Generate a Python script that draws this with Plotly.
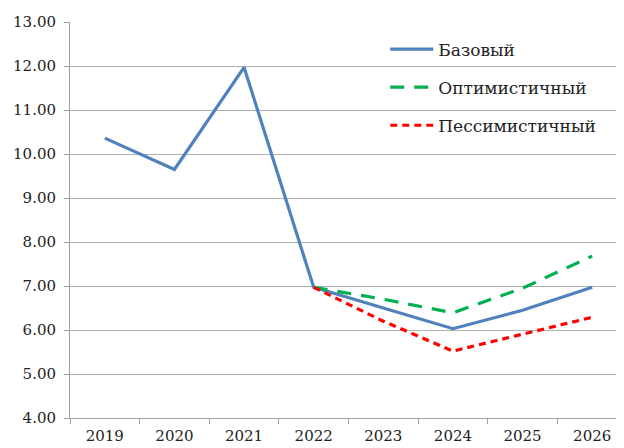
import plotly.graph_objects as go

years = ["2019", "2020", "2021", "2022", "2023", "2024", "2025", "2026"]
base = [10.36, 9.65, 11.97, 6.97, 6.50, 6.03, 6.45, 6.97]
opt_years = ["2022", "2023", "2024", "2025", "2026"]
optimistic = [6.97, 6.70, 6.39, 6.95, 7.68]
pessimistic = [6.97, 6.20, 5.52, 5.90, 6.29]

fig = go.Figure()

fig.add_trace(go.Scatter(x=years, y=base, name="Базовый", mode="lines",
                         line=dict(color="#4F81BD", width=3.2),
                         legendgroup="a"))
fig.add_trace(go.Scatter(x=opt_years, y=optimistic, name="Оптимистичный", mode="lines",
                         line=dict(color="#00B050", width=3.2, dash="14px,10px"),
                         legendgroup="b"))
fig.add_trace(go.Scatter(x=opt_years, y=pessimistic, name="Пессимистичный", mode="lines",
                         line=dict(color="#FF0000", width=3.2, dash="7px,5px"),
                         legendgroup="c"))

# page has an 8px body margin, so margins are shifted to compensate
fig.update_layout(
    width=624, height=448,
    margin=dict(l=55, r=5, t=12, b=38),
    plot_bgcolor="white",
    paper_bgcolor="white",
    font=dict(family="DejaVu Serif", size=15, color="#222222"),
    showlegend=True,
    legend=dict(x=0.566, y=0.976, xanchor="left", yanchor="top",
                bgcolor="rgba(0,0,0,0)", font=dict(size=17),
                traceorder="grouped", tracegroupgap=13, itemwidth=43),
)

fig.update_xaxes(
    type="category", range=[-0.5, 7.5],
    tickson="boundaries", ticks="outside", ticklen=5, tickcolor="#A0A0A0",
    showline=True, linecolor="#A0A0A0", linewidth=1,
    showgrid=False, tickfont=dict(size=15), ticklabelstandoff=4,
)
fig.update_yaxes(
    range=[4, 13], dtick=1, tickformat=".2f",
    ticks="outside", ticklen=5, tickcolor="#A0A0A0",
    showline=True, linecolor="#A0A0A0", linewidth=1,
    showgrid=True, gridcolor="#B0B0B0", gridwidth=1,
    zeroline=False, tickfont=dict(size=15), ticklabelstandoff=5,
)

fig.write_html("out.html")
